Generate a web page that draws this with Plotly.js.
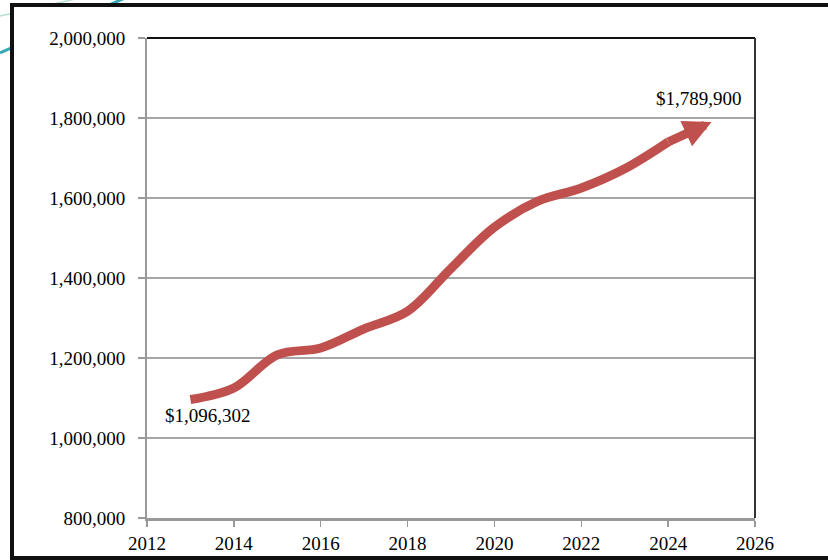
<!DOCTYPE html>
<html>
<head>
<meta charset="utf-8">
<script src="https://cdn.plot.ly/plotly-3.0.1.min.js"></script>
<style>html,body{margin:0;padding:0;background:#fff;}</style>
</head>
<body>
<div id="chart" style="width:828px;height:560px;"></div>
<script>
// Data
const years  = [2013, 2014, 2015, 2016, 2017, 2018, 2019, 2020, 2021, 2022, 2023, 2024, 2025];
const values = [1096302, 1125000, 1208000, 1225000, 1273000, 1317000, 1424000, 1527000, 1592000, 1625000, 1673000, 1740000, 1789900];
const startLabel = "$1,096,302";
const endLabel = "$1,789,900";
const xTicks = [2012, 2014, 2016, 2018, 2020, 2022, 2024, 2026];
const yTicks = [800000, 1000000, 1200000, 1400000, 1600000, 1800000, 2000000];

const RED = '#c0504d';
const FONT = '"Liberation Serif", "Times New Roman", serif';
const n = years.length;

const lineX = years.slice(0, n - 1);
const lineY = values.slice(0, n - 1);
const trace = {
  type: 'scatter',
  mode: 'lines+markers',
  x: lineX,
  y: lineY,
  line: {color: RED, width: 9, shape: 'spline', smoothing: 1},
  // round joint where the curve meets the arrow segment
  marker: {color: RED, size: lineX.map((_, i) => i === lineX.length - 1 ? 9 : 0), line: {width: 0}},
  hoverinfo: 'skip'
};

const layout = {
  width: 828, height: 560,
  margin: {l: 147, r: 73, t: 38, b: 42},
  paper_bgcolor: '#ffffff',
  plot_bgcolor: 'rgba(0,0,0,0)',
  showlegend: false,
  font: {family: FONT, size: 19, color: '#000'},
  xaxis: {
    range: [2012, 2026],
    tickvals: xTicks,
    ticktext: xTicks.map(String),
    showgrid: false,
    zeroline: false,
    showline: true, linecolor: '#999999', linewidth: 3,
    ticks: 'outside', ticklen: 6, tickwidth: 1.5, tickcolor: '#999999',
    tickfont: {family: FONT, size: 19, color: '#000'}
  },
  yaxis: {
    range: [800000, 2000000],
    tickvals: yTicks,
    ticktext: yTicks.map(v => v.toLocaleString('en-US')),
    showgrid: true, gridcolor: '#a6a6a6', gridwidth: 1.5,
    zeroline: false,
    showline: true, linecolor: '#999999', linewidth: 2,
    ticks: 'outside', ticklen: 7, tickwidth: 1.5, tickcolor: '#999999',
    ticklabelstandoff: 9,
    tickfont: {family: FONT, size: 19, color: '#000'}
  },
  shapes: [
    // decorative slide lines behind the frame
    {type: 'line', xref: 'paper', yref: 'paper', layer: 'below',
     x0: (0 - 147) / 608, y0: (518 - 53) / 480, x1: (125 - 147) / 608, y1: (518 + 2) / 480,
     line: {color: '#3aa8b4', width: 3}},
    {type: 'line', xref: 'paper', yref: 'paper', layer: 'below',
     x0: (0 - 147) / 608, y0: (518 - 16) / 480, x1: (80 - 147) / 608, y1: (518 + 2) / 480,
     line: {color: '#b7e0cf', width: 1.5}},
    // black slide frame
    {type: 'rect', xref: 'paper', yref: 'paper', layer: 'below',
     x0: (12 - 147) / 608, y0: (518 - 558) / 480, x1: (845 - 147) / 608, y1: (518 - 5) / 480,
     fillcolor: '#ffffff', line: {color: '#111111', width: 4}},
    // black top and right plot border
    {type: 'line', xref: 'paper', yref: 'paper', x0: 0, y0: 1, x1: 1, y1: 1,
     line: {color: '#111111', width: 2}},
    {type: 'line', xref: 'paper', yref: 'paper', x0: 1, y0: 0, x1: 1, y1: 1,
     line: {color: '#333333', width: 2}}
  ],
  annotations: [
    {x: years[n - 1], y: values[n - 1], ax: years[n - 2], ay: values[n - 2],
     xref: 'x', yref: 'y', axref: 'x', ayref: 'y',
     text: '', width: 1, height: 1, borderpad: 0, borderwidth: 0,
     showarrow: true, arrowhead: 2, arrowsize: 0.62, arrowwidth: 9,
     arrowcolor: RED, standoff: 0, startstandoff: 0},
    {x: years[0], y: values[0], xref: 'x', yref: 'y', text: startLabel,
     showarrow: false, xshift: 18, yshift: -16,
     font: {family: FONT, size: 19, color: '#000'}},
    {x: years[n - 1], y: values[n - 1], xref: 'x', yref: 'y', text: endLabel,
     showarrow: false, xshift: -13, yshift: 24,
     font: {family: FONT, size: 19, color: '#000'}}
  ]
};

Plotly.newPlot('chart', [trace], layout, {displayModeBar: false, staticPlot: true});
</script>
</body>
</html>
